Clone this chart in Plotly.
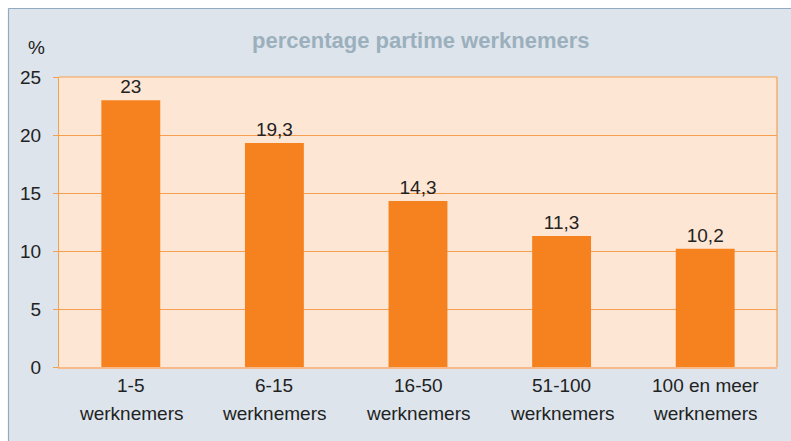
import plotly.graph_objects as go

categories = ["1-5", "6-15", "16-50", "51-100", "100 en meer"]
sub_label = "werknemers"
values = [23, 19.3, 14.3, 11.3, 10.2]
labels = ["23", "19,3", "14,3", "11,3", "10,2"]
y_ticks = [0, 5, 10, 15, 20, 25]

W, H = 791, 441
L, T, pw, ph = 59, 77, 718, 290
R, B = W - L - pw, H - T - ph

def px_x(x):  # screen px -> paper
    return (x - L) / pw

def px_y(y):
    return (T + ph - y) / ph

fig = go.Figure(go.Bar(
    x=categories, y=values, text=labels, textposition="outside",
    textfont=dict(size=19, color="#222222"),
    marker=dict(color="#F5821F", line=dict(width=0)),
    width=0.41, cliponaxis=False, hoverinfo="skip",
))

border = "#93AABF"
shapes = [
    dict(type="rect", xref="paper", yref="paper", x0=-0.2, x1=1.2, y0=px_y(8), y1=1.5,
         fillcolor="white", line=dict(width=0), layer="above"),
    dict(type="rect", xref="paper", yref="paper", x0=-0.2, x1=px_x(8), y0=-0.5, y1=1.5,
         fillcolor="white", line=dict(width=0), layer="above"),
    dict(type="line", xref="paper", yref="paper", x0=px_x(8.5), x1=1.2, y0=px_y(8.5), y1=px_y(8.5),
         line=dict(color=border, width=1.2)),
    dict(type="line", xref="paper", yref="paper", x0=px_x(8.5), x1=px_x(8.5), y0=-0.5, y1=px_y(8.5),
         line=dict(color=border, width=1.2)),
    dict(type="line", xref="paper", yref="paper", x0=0, x1=1, y0=1, y1=1,
         line=dict(color="#F5A050", width=1.2)),
    dict(type="line", xref="paper", yref="paper", x0=1, x1=1, y0=0, y1=1,
         line=dict(color="#F5A050", width=1.2)),
]

annotations = [
    dict(text="<b>percentage partime werknemers</b>", xref="paper", yref="paper",
         x=px_x(421), y=px_y(41), xanchor="center", yanchor="middle", showarrow=False,
         font=dict(size=22, color="#9BB0BC")),
    dict(text="%", xref="paper", yref="paper", x=px_x(36), y=px_y(47),
         xanchor="center", yanchor="middle", showarrow=False,
         font=dict(size=19, color="#222222")),
]
for c in categories:
    annotations.append(dict(text=c, x=c, xref="x", yref="paper", y=px_y(385),
                            xanchor="center", yanchor="middle", showarrow=False,
                            font=dict(size=19, color="#222222")))
    annotations.append(dict(text=sub_label, x=c, xref="x", yref="paper", y=px_y(413),
                            xanchor="center", yanchor="middle", showarrow=False,
                            font=dict(size=19, color="#222222")))

fig.update_layout(
    width=W, height=H,
    margin=dict(l=L, r=R, t=T, b=B),
    paper_bgcolor="#DDE4EC", plot_bgcolor="#FEE6D4",
    font=dict(family="Liberation Sans, Arial, sans-serif", size=19, color="#222222"),
    showlegend=False,
    shapes=shapes,
    annotations=annotations,
)
fig.update_yaxes(range=[0, 25], tickvals=y_ticks, showgrid=True, gridcolor="#F5A050",
                 gridwidth=1, zeroline=False, showline=True, linecolor="#F5A050", linewidth=1.2,
                 ticks="outside", ticklen=5, tickcolor="#F5A050", ticklabelstandoff=8,
                 tickfont=dict(size=19, color="#222222"))
fig.update_xaxes(showline=True, linecolor="#F8B888", linewidth=2, ticks="",
                 showticklabels=False)

fig.write_html("out.html",
               config={"displayModeBar": False},
               post_script="document.body.style.margin='0';"
                           "document.documentElement.style.overflow='hidden';"
                           "document.body.style.overflow='hidden';")
